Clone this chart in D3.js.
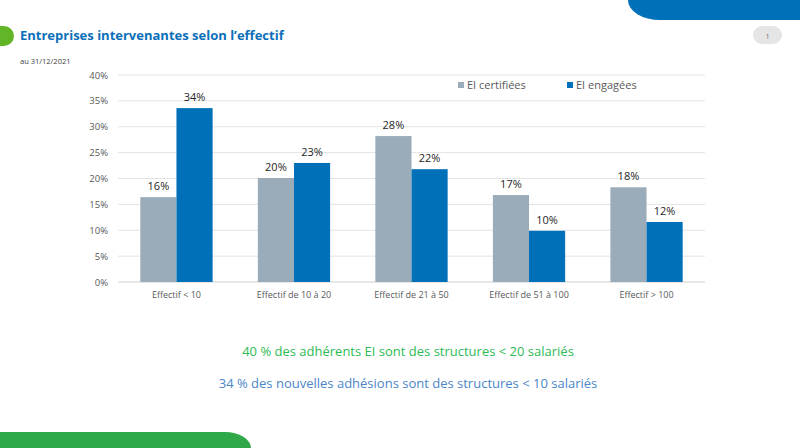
<!DOCTYPE html>
<html>
<head>
<meta charset="utf-8">
<script src="https://cdn.jsdelivr.net/npm/d3@7"></script>
<style>
  body { margin: 0; background: #fff; }
  svg { display: block; font-family: "Open Sans", "Liberation Sans", sans-serif; }
</style>
</head>
<body>
<script>
// Data
const categories = ["Effectif < 10", "Effectif de 10 à 20", "Effectif de 21 à 50", "Effectif de 51 à 100", "Effectif > 100"];
const seriesNames = ["EI certifiées", "EI engagées"];
const certifiees = [16.4, 20.1, 28.2, 16.8, 18.3];
const engagees = [33.6, 23.0, 21.8, 9.9, 11.6];
const certifieesLabels = ["16%", "20%", "28%", "17%", "18%"];
const engageesLabels = ["34%", "23%", "22%", "10%", "12%"];
const yTicks = [0, 5, 10, 15, 20, 25, 30, 35, 40];

const width = 800, height = 448;
const colors = ["#9aacb9", "#0070b8"];

const svg = d3.select("body").append("svg")
  .attr("width", width)
  .attr("height", height);

// Slide decorations
svg.append("path")
  .attr("d", "M0,26 H4 A10,10 0 0 1 4,46 H0 Z")
  .attr("fill", "#62b526");
svg.append("path")
  .attr("d", "M628,0 H800 V20 H660 A32,20 0 0 1 628,0 Z")
  .attr("fill", "#0070b8");
svg.append("rect")
  .attr("x", 753).attr("y", 26).attr("width", 29).attr("height", 18)
  .attr("rx", 9).attr("fill", "#e5e5e5");
svg.append("text")
  .attr("x", 767.5).attr("y", 38.5)
  .attr("text-anchor", "middle")
  .attr("font-size", 8).attr("fill", "#7f7f7f")
  .text("1");
svg.append("path")
  .attr("d", "M0,432 H225 A26,16 0 0 1 251,448 H0 Z")
  .attr("fill", "#2fa84a");

svg.append("text")
  .attr("x", 20).attr("y", 40)
  .attr("font-size", 13).attr("font-weight", "bold").attr("fill", "#0b6fba")
  .text("Entreprises intervenantes selon l’effectif");
svg.append("text")
  .attr("x", 20).attr("y", 64)
  .attr("font-size", 7.5).attr("fill", "#404040")
  .text("au 31/12/2021");

// Chart
const margin = { left: 118, right: 95, top: 75, bottom: 166 };
const x0 = d3.scaleBand()
  .domain(categories)
  .range([margin.left, width - margin.right])
  .paddingInner(0.385)
  .paddingOuter(0.19);
const x1 = d3.scaleBand()
  .domain(seriesNames)
  .range([0, x0.bandwidth()]);
const y = d3.scaleLinear()
  .domain([0, 40])
  .range([height - margin.bottom, margin.top]);

// gridlines
svg.append("g")
  .selectAll("line")
  .data(yTicks)
  .join("line")
  .attr("x1", margin.left).attr("x2", width - margin.right)
  .attr("y1", d => y(d)).attr("y2", d => y(d))
  .attr("stroke", d => d === 0 ? "#d0d0d0" : "#e3e3e3")
  .attr("stroke-width", 1);

// y axis labels
const yAxis = d3.axisLeft(y).tickValues(yTicks).tickFormat(d => d + "%").tickSize(0).tickPadding(10);
svg.append("g")
  .attr("transform", `translate(${margin.left},0)`)
  .call(yAxis)
  .call(g => g.select(".domain").remove())
  .call(g => g.selectAll("text").attr("font-size", 9.5).attr("fill", "#595959")
    .attr("font-family", "'Open Sans', sans-serif"));

// x axis labels
const xAxis = d3.axisBottom(x0).tickSize(0).tickPadding(10);
svg.append("g")
  .attr("transform", `translate(0,${y(0)})`)
  .call(xAxis)
  .call(g => g.select(".domain").remove())
  .call(g => g.selectAll("text").attr("font-size", 9).attr("fill", "#595959")
    .attr("font-family", "'Open Sans', sans-serif"));

const rows = categories.map((c, i) => ({
  cat: c,
  vals: [
    { s: seriesNames[0], v: certifiees[i], label: certifieesLabels[i] },
    { s: seriesNames[1], v: engagees[i], label: engageesLabels[i] }
  ]
}));

const groups = svg.append("g").selectAll("g")
  .data(rows)
  .join("g")
  .attr("transform", d => `translate(${x0(d.cat)},0)`);

groups.selectAll("rect")
  .data(d => d.vals)
  .join("rect")
  .attr("x", d => x1(d.s))
  .attr("width", x1.bandwidth())
  .attr("y", d => y(d.v))
  .attr("height", d => y(0) - y(d.v))
  .attr("fill", (d, i) => colors[i]);

groups.selectAll("text")
  .data(d => d.vals)
  .join("text")
  .attr("x", d => x1(d.s) + x1.bandwidth() / 2)
  .attr("y", d => y(d.v) - 7)
  .attr("text-anchor", "middle")
  .attr("font-size", 11)
  .attr("fill", "#262626")
  .text(d => d.label);

// legend
const legendX = [458, 567];
const legend = svg.append("g").selectAll("g")
  .data(seriesNames)
  .join("g")
  .attr("transform", (d, i) => `translate(${legendX[i]},82)`);
legend.append("rect")
  .attr("width", 6).attr("height", 6)
  .attr("fill", (d, i) => colors[i]);
legend.append("text")
  .attr("x", 9).attr("y", 7)
  .attr("font-size", 11).attr("fill", "#595959")
  .text(d => d);

// notes
svg.append("text")
  .attr("x", 408).attr("y", 356)
  .attr("text-anchor", "middle")
  .attr("font-size", 13).attr("fill", "#2dbb55")
  .text("40 % des adhérents EI sont des structures < 20 salariés");
svg.append("text")
  .attr("x", 408).attr("y", 388)
  .attr("text-anchor", "middle")
  .attr("font-size", 13).attr("fill", "#4a86c8")
  .text("34 % des nouvelles adhésions sont des structures < 10 salariés");
</script>
</body>
</html>
